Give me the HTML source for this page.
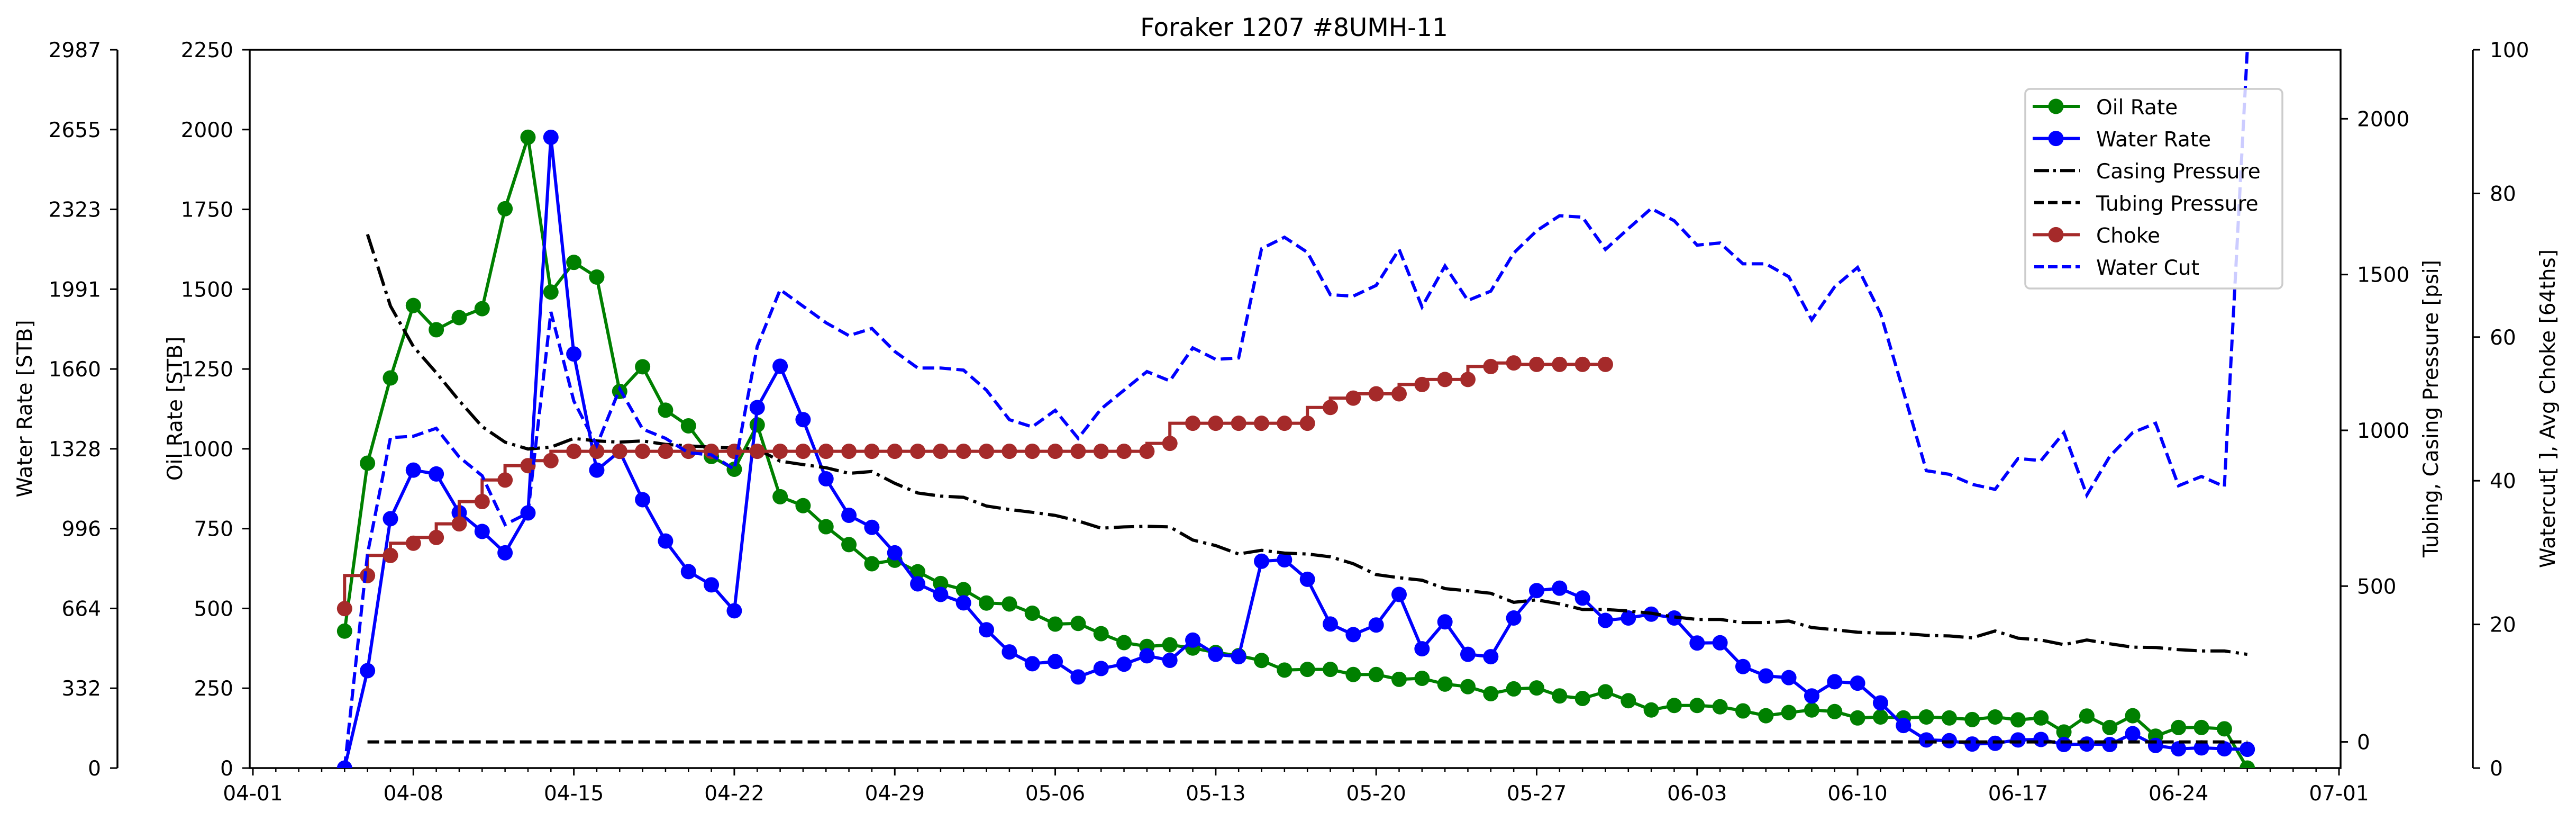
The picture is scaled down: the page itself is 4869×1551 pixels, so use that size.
<!DOCTYPE html>
<html><head><meta charset="utf-8"><title>Foraker 1207 #8UMH-11</title>
<style>
html,body{margin:0;padding:0;background:#fff;}
svg{display:block;font-family:"DejaVu Sans","Liberation Sans",sans-serif;}
</style></head>
<body>
<svg id="chart" xmlns="http://www.w3.org/2000/svg" width="4869" height="1551" viewBox="0 0 4869 1551">
<rect x="0" y="0" width="4869" height="1551" fill="#fff"/>
<defs><clipPath id="plotclip"><rect x="472" y="94" width="3952" height="1357"/></clipPath></defs>
<text x="2446" y="68" font-size="47" text-anchor="middle">Foraker 1207 #8UMH-11</text>
<g id="axes"></g>
<g id="series" clip-path="url(#plotclip)"></g>
<g id="legend"></g>
</svg>
<script>
// ---- data (day index 0 = 04-01) ----
const startDay = 4; // 04-05
const oilRate = [429,955,1222,1449,1373,1411,1439,1752,1976,1491,1584,1538,1180,1257,1121,1072,976,936,1075,850,822,756,700,640,651,615,
578,559,517,514,485,451,453,421,393,381,386,376,362,352,337,307,309,309,293,293,278,281,263,255,233,248,251,226,218,239,211,
182,196,196,192,179,164,174,182,177,157,160,157,160,157,152,160,151,157,113,163,127,164,100,127,127,123,0];
const waterRate = [0,405,1037,1239,1223,1062,984,895,1061,2623,1722,1239,1317,1116,944,817,762,654,1499,1671,1449,1203,1051,1001,895,766,
722,687,575,483,434,443,379,414,432,467,448,532,473,463,860,866,785,599,555,595,722,496,608,473,463,624,738,748,707,614,624,
640,624,520,521,422,383,376,300,359,353,271,177,117,114,100,103,117,119,98,100,98,143,94,80,84,80,78];
const waterCut = [0,29.8,46.0,46.2,47.3,43.3,40.7,33.9,35.5,63.5,51.1,44.9,52.8,47.2,45.9,43.9,43.6,41.6,58.7,66.6,64.3,62.0,60.2,61.2,58.0,55.7,
55.7,55.4,52.6,48.5,47.5,49.8,45.9,50.0,52.6,55.2,53.9,58.5,56.9,57.1,72.3,73.9,71.8,65.9,65.7,67.2,72.2,64.2,69.9,65.1,66.4,71.7,74.8,76.9,76.7,72.2,75.1,
77.9,76.2,72.8,73.1,70.2,70.2,68.4,62.4,67.0,69.7,63.3,52.4,41.4,40.9,39.5,38.8,43.1,42.8,46.7,38.0,43.4,46.7,48.0,39.3,40.6,39.2,100];
const chokeStart = 4;
const choke = [22.2,26.8,29.6,31.3,32.1,34.0,37.1,40.1,42.1,42.8,
44.1,44.1,44.1,44.1,44.1,44.1,44.1,44.1,44.1,44.1,44.1,44.1,44.1,44.1,44.1,44.1,
44.1,44.1,44.1,44.1,44.1,44.1,44.1,44.1,44.1,44.1,
45.2,48.0,48.0,48.0,48.0,48.0,48.0,50.2,51.5,52.1,52.1,53.4,54.1,54.1,55.9,56.4,56.2,56.2,56.2,56.2];
const pressStart = 5; // 04-06
const casingPressure = [1629,1399,1269,1185,1095,1012,962,940,946,974,966,962,966,955,950,946,943,940,901,890,880,862,868,830,799,
789,785,757,746,737,727,709,686,690,692,690,648,630,603,615,606,603,594,572,537,527,519,492,485,477,448,456,443,425,425,420,
413,401,393,393,383,383,388,367,360,352,349,348,342,340,334,356,333,327,312,327,315,304,303,296,292,292,281];
const tubingPressure = casingPressure.map(() => 0);
const oilTicks = [0,250,500,750,1000,1250,1500,1750,2000,2250];
const waterTicks = ["0","332","664","996","1328","1660","1991","2323","2655","2987"];
const pressTicks = [0,500,1000,1500,2000];
const pctTicks = [0,20,40,60,80,100];
const dateTicks = ["04-01","04-08","04-15","04-22","04-29","05-06","05-13","05-20","05-27","06-03","06-10","06-17","06-24","07-01"];

// ---- scales ----
const X0 = 478, DAY = 43.33, TOP = 94, BOT = 1451, H = BOT - TOP;
const xOf = d => X0 + d * DAY;
const yOil = v => BOT - v / 2250 * H;
const yWater = v => BOT - v / 2987 * H;
const P_MIN = -84, P_MAX = 2221.5;
const yPsi = v => BOT - (v - P_MIN) / (P_MAX - P_MIN) * H;
const yPct = v => BOT - v / 100 * H;

const NS = "http://www.w3.org/2000/svg";
function mk(tag, attrs, parent) {
  const e = document.createElementNS(NS, tag);
  for (const k in attrs) e.setAttribute(k, attrs[k]);
  parent.appendChild(e);
  return e;
}
const axes = document.getElementById('axes');
const series = document.getElementById('series');
const legend = document.getElementById('legend');
const FS = 39;

// plot frame
let fr = mk('rect', {x:472, y:TOP, width:3952, height:H, fill:'none', stroke:'#000', 'stroke-width':3.5}, axes);



// x ticks
for (let d = 0; d <= 91; d++) {
  const major = d % 7 === 0;
  const t = mk('line', {x1:xOf(d), x2:xOf(d), y1:BOT, y2:BOT + (major ? 14 : 7), stroke:'#000', 'stroke-width': major ? 3 : 2.5}, axes);
  
  
}
dateTicks.forEach((lab, i) => {
  const t = mk('text', {x:xOf(i * 7), y:1512, 'font-size':FS, 'text-anchor':'middle'}, axes);
  t.textContent = lab;
  
  
});

// oil axis (left, at plot frame)
oilTicks.forEach(v => {
  const y = yOil(v);
  const l = mk('line', {x1:458, x2:472, y1:y, y2:y, stroke:'#000', 'stroke-width':3}, axes);
  
  
  const t = mk('text', {x:441, y:y + 14, 'font-size':FS, 'text-anchor':'end'}, axes);
  t.textContent = v;
  
  
});
let ol = mk('text', {x:0, y:0, 'font-size':FS, 'text-anchor':'middle', transform:'translate(344,772) rotate(-90)'}, axes);
ol.textContent = 'Oil Rate [STB]';



// water axis (far left)
let ws = mk('line', {x1:222, x2:222, y1:TOP, y2:BOT, stroke:'#000', 'stroke-width':3.5}, axes);


waterTicks.forEach((lab, i) => {
  const y = BOT - i / (waterTicks.length - 1) * H;
  const l = mk('line', {x1:208, x2:222, y1:y, y2:y, stroke:'#000', 'stroke-width':3}, axes);
  
  
  const t = mk('text', {x:191, y:y + 14, 'font-size':FS, 'text-anchor':'end'}, axes);
  t.textContent = lab;
  
  
});
let wl = mk('text', {x:0, y:0, 'font-size':FS, 'text-anchor':'middle', transform:'translate(60,772) rotate(-90)'}, axes);
wl.textContent = 'Water Rate [STB]';



// pressure axis (right of frame)
pressTicks.forEach(v => {
  const y = yPsi(v);
  const l = mk('line', {x1:4424, x2:4438, y1:y, y2:y, stroke:'#000', 'stroke-width':3}, axes);
  
  
  const t = mk('text', {x:4455, y:y + 14, 'font-size':FS}, axes);
  t.textContent = v;
  
  
});
let pl = mk('text', {x:0, y:0, 'font-size':FS, 'text-anchor':'middle', transform:'translate(4608,772) rotate(-90)'}, axes);
pl.textContent = 'Tubing, Casing Pressure [psi]';



// watercut axis (far right)
let cs = mk('line', {x1:4674, x2:4674, y1:TOP, y2:BOT, stroke:'#000', 'stroke-width':3.5}, axes);


pctTicks.forEach(v => {
  const y = yPct(v);
  const l = mk('line', {x1:4674, x2:4688, y1:y, y2:y, stroke:'#000', 'stroke-width':3}, axes);
  
  
  const t = mk('text', {x:4706, y:y + 14, 'font-size':FS}, axes);
  t.textContent = v;
  
  
});
let cl = mk('text', {x:0, y:0, 'font-size':FS, 'text-anchor':'middle', transform:'translate(4829,772) rotate(-90)'}, axes);
cl.textContent = 'Watercut[ ], Avg Choke [64ths]';



// ---- series ----
const LW = 6, R = 14.5;
function linePts(vals, start, yf) {
  return vals.map((v, i) => xOf(start + i).toFixed(1) + ',' + yf(v).toFixed(1)).join(' ');
}
function stepPre(vals, start, yf) {
  let pts = [];
  vals.forEach((v, i) => {
    const x = xOf(start + i);
    if (i > 0) pts.push(xOf(start + i - 1).toFixed(1) + ',' + yf(v).toFixed(1));
    pts.push(x.toFixed(1) + ',' + yf(v).toFixed(1));
  });
  return pts.join(' ');
}
function markers(vals, start, yf, color, name) {
  vals.forEach((v, i) => {
    const c = mk('circle', {cx:xOf(start + i), cy:yf(v), r:R, fill:color}, series);
    
    
  });
}

let oilLine = mk('polyline', {points:linePts(oilRate, startDay, yOil), fill:'none', stroke:'#008000', 'stroke-width':LW, 'stroke-linejoin':'round'}, series);


markers(oilRate, startDay, yOil, '#008000', 'oil-rate-point');

let waterLine = mk('polyline', {points:linePts(waterRate, startDay, yWater), fill:'none', stroke:'#0000ff', 'stroke-width':LW, 'stroke-linejoin':'round'}, series);


markers(waterRate, startDay, yWater, '#0000ff', 'water-rate-point');

let casLine = mk('polyline', {points:linePts(casingPressure, pressStart, yPsi), fill:'none', stroke:'#000', 'stroke-width':LW, 'stroke-dasharray':'38,10,6,10'}, series);



let tubLine = mk('polyline', {points:linePts(tubingPressure, pressStart, yPsi), fill:'none', stroke:'#000', 'stroke-width':LW, 'stroke-dasharray':'22,10'}, series);



let chokeLine = mk('polyline', {points:stepPre(choke, chokeStart, yPct), fill:'none', stroke:'#a52a2a', 'stroke-width':LW}, series);


markers(choke, chokeStart, yPct, '#a52a2a', 'choke-point');

let wcLine = mk('polyline', {points:linePts(waterCut, startDay, yPct), fill:'none', stroke:'#0000ff', 'stroke-width':LW, 'stroke-dasharray':'22,10'}, series);



// ---- legend ----
let lb = mk('rect', {x:3828, y:168, width:486, height:377, rx:9, fill:'#fff', 'fill-opacity':0.8, stroke:'#cccccc', 'stroke-width':3.5}, legend);


const legItems = [
  ['Oil Rate', '#008000', null, true],
  ['Water Rate', '#0000ff', null, true],
  ['Casing Pressure', '#000', '28,8,5,8', false],
  ['Tubing Pressure', '#000', '18,8', false],
  ['Choke', '#a52a2a', null, true],
  ['Water Cut', '#0000ff', '18,8', false]
];
legItems.forEach((it, i) => {
  const y = 201 + i * 60.6;
  const g = mk('g', {}, legend);
  
  
  const a = {x1:3842, x2:3931, y1:y, y2:y, stroke:it[1], 'stroke-width':LW};
  if (it[2]) { a['stroke-dasharray'] = it[2]; a.x1 = 3845; }
  mk('line', a, g);
  if (it[3]) mk('circle', {cx:3886, cy:y, r:R, fill:it[1]}, g);
  const t = mk('text', {x:3962, y:y + 15, 'font-size':FS}, g);
  t.textContent = it[0];
});
</script>
</body></html>
